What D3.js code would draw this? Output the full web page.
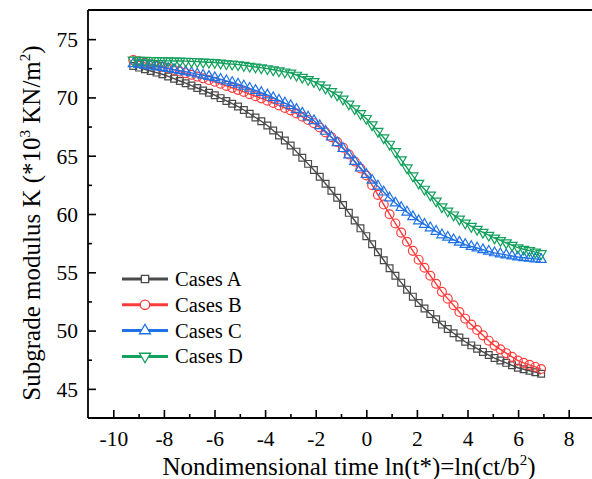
<!DOCTYPE html>
<html>
<head>
<meta charset="utf-8">
<script src="https://cdn.jsdelivr.net/npm/d3@7"></script>
<style>
  html, body { margin: 0; padding: 0; background: #fff; }
  svg { display: block; }
</style>
</head>
<body>
<div id="chart"></div>
<script>
/* ── data ─────────────────────────────────────────── */

// ln(t*) at each computed point (10 per decade of t*)
const xs = [
  -9.21, -8.98, -8.75, -8.52, -8.29, -8.06, -7.83, -7.60, -7.37, -7.14,
  -6.91, -6.68, -6.45, -6.22, -5.99, -5.76, -5.53, -5.30, -5.07, -4.84,
  -4.61, -4.38, -4.15, -3.91, -3.68, -3.45, -3.22, -2.99, -2.76, -2.53,
  -2.30, -2.07, -1.84, -1.61, -1.38, -1.15, -0.92, -0.69, -0.46, -0.23,
   0.00,  0.23,  0.46,  0.69,  0.92,  1.15,  1.38,  1.61,  1.84,  2.07,
   2.30,  2.53,  2.76,  2.99,  3.22,  3.45,  3.68,  3.91,  4.15,  4.38,
   4.61,  4.84,  5.07,  5.30,  5.53,  5.76,  5.99,  6.22,  6.45,  6.68,
   6.91
];

const casesA = [
  72.70, 72.56, 72.42, 72.27, 72.13, 71.99, 71.80, 71.61, 71.41, 71.22,
  71.02, 70.81, 70.60, 70.40, 70.19, 69.94, 69.70, 69.46, 69.22, 68.92,
  68.60, 68.28, 67.96, 67.59, 67.17, 66.74, 66.31, 65.88, 65.35, 64.83,
  64.30, 63.77, 63.19, 62.59, 61.99, 61.39, 60.77, 60.10, 59.44, 58.77,
  58.10, 57.41, 56.72, 56.03, 55.34, 54.71, 54.11, 53.51, 52.91, 52.36,
  51.89, 51.43, 50.97, 50.51, 50.14, 49.77, 49.41, 49.04, 48.73, 48.45,
  48.17, 47.90, 47.64, 47.43, 47.23, 47.02, 46.81, 46.68, 46.55, 46.43,
  46.30
];

const casesB = [
  73.20, 73.09, 72.97, 72.85, 72.74, 72.63, 72.50, 72.36, 72.22, 72.08,
  71.94, 71.79, 71.64, 71.49, 71.34, 71.17, 70.99, 70.82, 70.65, 70.47,
  70.28, 70.10, 69.92, 69.72, 69.52, 69.31, 69.10, 68.89, 68.62, 68.34,
  68.06, 67.79, 67.42, 67.00, 66.59, 66.17, 65.69, 65.10, 64.50, 63.90,
  63.30, 62.47, 61.64, 60.81, 59.98, 59.19, 58.40, 57.62, 56.84, 56.08,
  55.39, 54.70, 54.01, 53.32, 52.74, 52.17, 51.59, 51.02, 50.51, 50.05,
  49.59, 49.13, 48.71, 48.39, 48.06, 47.74, 47.42, 47.23, 47.06, 46.88,
  46.70
];

const casesC = [
  72.90, 72.83, 72.77, 72.70, 72.63, 72.57, 72.48, 72.39, 72.30, 72.21,
  72.11, 72.00, 71.90, 71.80, 71.69, 71.55, 71.42, 71.28, 71.14, 70.97,
  70.78, 70.60, 70.42, 70.21, 69.98, 69.75, 69.52, 69.29, 68.97, 68.65,
  68.32, 68.00, 67.57, 67.09, 66.60, 66.12, 65.61, 65.06, 64.51, 63.95,
  63.40, 62.89, 62.39, 61.88, 61.37, 60.94, 60.55, 60.16, 59.77, 59.41,
  59.11, 58.81, 58.51, 58.21, 58.00, 57.79, 57.58, 57.38, 57.21, 57.08,
  56.94, 56.80, 56.67, 56.58, 56.49, 56.40, 56.31, 56.25, 56.20, 56.15,
  56.10
];

const casesD = [
  73.20, 73.19, 73.18, 73.17, 73.16, 73.15, 73.14, 73.13, 73.12, 73.11,
  73.09, 73.07, 73.04, 73.02, 73.00, 72.95, 72.89, 72.86, 72.81, 72.75,
  72.68, 72.61, 72.54, 72.47, 72.37, 72.28, 72.19, 72.10, 71.91, 71.73,
  71.54, 71.36, 71.09, 70.80, 70.50, 70.20, 69.86, 69.44, 69.03, 68.61,
  68.20, 67.65, 67.09, 66.54, 65.99, 65.35, 64.65, 63.96, 63.27, 62.64,
  62.13, 61.63, 61.12, 60.62, 60.26, 59.92, 59.57, 59.23, 58.94, 58.69,
  58.43, 58.18, 57.94, 57.73, 57.53, 57.32, 57.11, 56.98, 56.86, 56.73,
  56.60
];

const seriesNames = ['Cases A', 'Cases B', 'Cases C', 'Cases D'];
const xTicks = [-10, -8, -6, -4, -2, 0, 2, 4, 6, 8];
const yTicks = [45, 50, 55, 60, 65, 70, 75];

/* ── layout ───────────────────────────────────────── */

const W = 592, H = 479;
const plotLeft = 88, plotTop = 10, plotBottom = 418;
const FONT = 'Liberation Serif';

const x = d3.scaleLinear().domain([-11, 9.5]).range([plotLeft, plotLeft + 20.5 * 25.3]);
const y = d3.scaleLinear().domain([42.5, 77.5]).range([plotBottom, plotTop]);

const styles = [
  { color: '#4a4a4a', symbol: d3.symbolSquare,   size: 46, rotate: 0 },
  { color: '#ff3b3b', symbol: d3.symbolCircle,   size: 62, rotate: 0 },
  { color: '#1f72e6', symbol: d3.symbolTriangle, size: 44, rotate: 0 },
  { color: '#12a05c', symbol: d3.symbolTriangle, size: 44, rotate: 180 }
];

const allSeries = [casesA, casesB, casesC, casesD];

const svg = d3.select('#chart').append('svg')
  .attr('width', W).attr('height', H);

svg.append('rect').attr('width', W).attr('height', H).attr('fill', '#fff');

/* ── series ───────────────────────────────────────── */

const line = d3.line()
  .x((d, i) => x(xs[i]))
  .y(d => y(d));

allSeries.forEach((vals, s) => {
  const st = styles[s];
  const g = svg.append('g');
  g.append('path')
    .datum(vals)
    .attr('d', line)
    .attr('fill', 'none')
    .attr('stroke', st.color)
    .attr('stroke-width', 1.4);
  g.selectAll('path.m')
    .data(vals)
    .join('path')
    .attr('class', 'm')
    .attr('d', d3.symbol().type(st.symbol).size(st.size))
    .attr('transform', (d, i) => `translate(${x(xs[i])},${y(d)}) rotate(${st.rotate})`)
    .attr('fill', 'none')
    .attr('stroke', st.color)
    .attr('stroke-width', 1.2);
});

/* ── axes ─────────────────────────────────────────── */

const axisColor = '#000';

// frame lines (right side falls outside the picture)
svg.append('line').attr('x1', plotLeft).attr('x2', W).attr('y1', plotTop).attr('y2', plotTop)
  .attr('stroke', axisColor).attr('stroke-width', 1.8);
svg.append('line').attr('x1', plotLeft).attr('x2', W).attr('y1', plotBottom).attr('y2', plotBottom)
  .attr('stroke', axisColor).attr('stroke-width', 1.8);
svg.append('line').attr('x1', plotLeft).attr('x2', plotLeft).attr('y1', plotTop).attr('y2', plotBottom)
  .attr('stroke', axisColor).attr('stroke-width', 1.8);

const fmt = d => String(d);

const xAxis = svg.append('g')
  .attr('transform', `translate(0,${plotBottom})`)
  .call(d3.axisBottom(x).tickValues(xTicks).tickSize(-8).tickPadding(13).tickFormat(fmt));
xAxis.select('.domain').remove();

const xMinor = svg.append('g')
  .attr('transform', `translate(0,${plotBottom})`)
  .call(d3.axisBottom(x).tickValues(d3.range(-9, 9, 2)).tickSize(-4).tickFormat(''));
xMinor.select('.domain').remove();

const yAxis = svg.append('g')
  .attr('transform', `translate(${plotLeft},0)`)
  .call(d3.axisLeft(y).tickValues(yTicks).tickSize(-8).tickPadding(10).tickFormat(fmt));
yAxis.select('.domain').remove();

const yMinor = svg.append('g')
  .attr('transform', `translate(${plotLeft},0)`)
  .call(d3.axisLeft(y).tickValues([47.5, 52.5, 57.5, 62.5, 67.5, 72.5]).tickSize(-4).tickFormat(''));
yMinor.select('.domain').remove();

svg.selectAll('.tick line').attr('stroke', axisColor).attr('stroke-width', 1.6);
svg.selectAll('.tick text')
  .style('font-family', FONT)
  .style('font-size', '21.5px')
  .attr('fill', '#000');
yAxis.selectAll('.tick text').attr('dy', '0.34em');

/* ── titles ───────────────────────────────────────── */

const xt = svg.append('text')
  .attr('x', 349).attr('y', 475)
  .attr('text-anchor', 'middle')
  .style('font-family', FONT).style('font-size', '25px');
xt.append('tspan').text('Nondimensional time ln(t*)=ln(ct/b');
xt.append('tspan').style('font-size', '15px').attr('dy', -10).text('2');
xt.append('tspan').attr('dy', 10).text(')');

const yt = svg.append('text')
  .attr('transform', 'translate(40,223) rotate(-90)')
  .attr('text-anchor', 'middle')
  .style('font-family', FONT).style('font-size', '25px');
yt.append('tspan').text('Subgrade modulus K (*10');
yt.append('tspan').style('font-size', '15px').attr('dy', -10).text('3');
yt.append('tspan').attr('dy', 10).text(' KN/m');
yt.append('tspan').style('font-size', '15px').attr('dy', -10).text('2');
yt.append('tspan').attr('dy', 10).text(')');

/* ── legend ───────────────────────────────────────── */

const legend = svg.append('g');
seriesNames.forEach((name, s) => {
  const st = styles[s];
  const ly = 279 + s * 25.8;
  legend.append('line')
    .attr('x1', 122).attr('x2', 168).attr('y1', ly).attr('y2', ly)
    .attr('stroke', st.color).attr('stroke-width', 3);
  legend.append('path')
    .attr('d', d3.symbol().type(st.symbol).size(st.size + 8))
    .attr('transform', `translate(145,${ly}) rotate(${st.rotate})`)
    .attr('fill', '#fff')
    .attr('stroke', st.color)
    .attr('stroke-width', 1.3);
  legend.append('text')
    .attr('x', 175).attr('y', ly + 7)
    .style('font-family', FONT).style('font-size', '20.5px')
    .text(name);
});
</script>
</body>
</html>
